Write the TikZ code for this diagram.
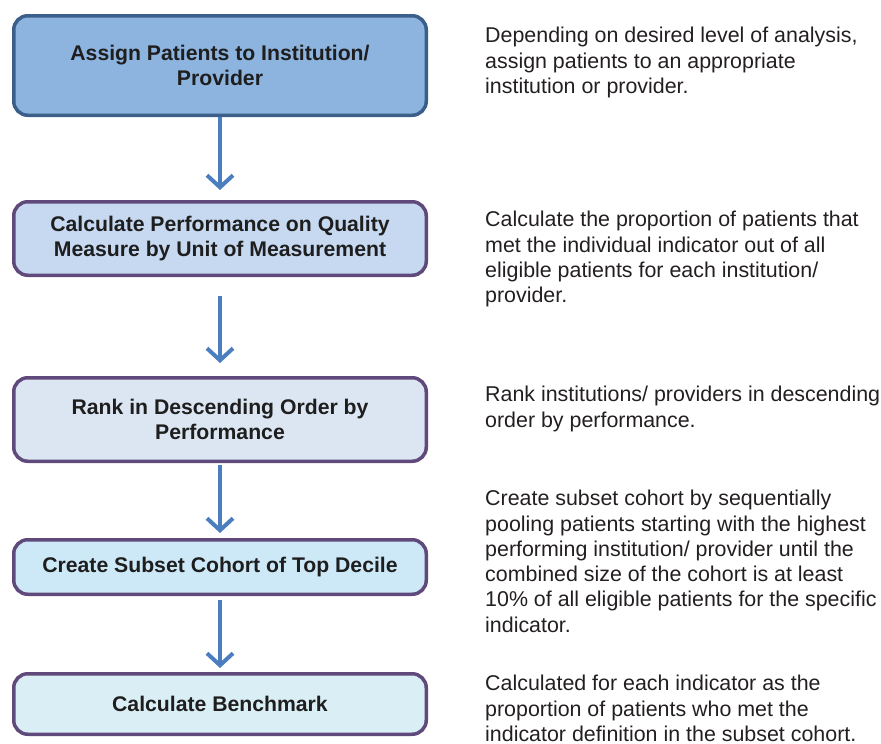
\documentclass[tikz,border=0pt]{standalone}
\usepackage{fontspec}
\setmainfont{Liberation Sans}
\usetikzlibrary{positioning,arrows.meta}

\definecolor{assignfill}{HTML}{8DB3DF}
\definecolor{assignline}{HTML}{3B5F8A}
\definecolor{perffill}{HTML}{C6D9F1}
\definecolor{rankfill}{HTML}{DCE6F2}
\definecolor{cohortfill}{HTML}{CDE9F8}
\definecolor{benchfill}{HTML}{DAEEF5}
\definecolor{boxline}{HTML}{604A7B}
\definecolor{flowblue}{HTML}{4A7EBF}
\definecolor{steptext}{HTML}{1E1E1E}
\definecolor{notetext}{HTML}{231F20}

\tikzset{
  stepbox/.style={draw=boxline, line width=3.5pt, rounded corners=14pt,
    minimum width=412.5pt, align=center, text=steptext,
    font=\fontsize{21.2}{25.5}\selectfont\bfseries},
  note/.style={anchor=north west, align=left, inner sep=0pt, text=notetext,
    font=\fontsize{21.4}{25.3}\selectfont},
  flow/.style={draw=flowblue, line width=4pt,
    -{Straight Barb[length=12pt,width=26pt]}},
}

\begin{document}
\begin{tikzpicture}[x=1pt, y=1pt]
  \useasboundingbox (0,0) rectangle (881,-744);

  \node [stepbox, fill=assignfill, draw=assignline, minimum height=99.5pt] (assign) at (220,-65.5)
    {Assign Patients to Institution/\\Provider};
  \node [stepbox, fill=perffill, minimum height=73.5pt, below=83pt of assign] (perf)
    {Calculate Performance on Quality\\Measure by Unit of Measurement};
  \node [stepbox, fill=rankfill, minimum height=83.5pt, below=99pt of perf] (rank)
    {Rank in Descending Order by\\Performance};
  \node [stepbox, fill=cohortfill, minimum height=54.5pt, below=75pt of rank] (cohort)
    {Create Subset Cohort of Top Decile};
  \node [stepbox, fill=benchfill, minimum height=60.5pt, below=76pt of cohort] (bench)
    {Calculate Benchmark};

  \node [note] (assignnote) at (485,-27) {
    Depending on desired level of analysis,\\
    assign patients to an appropriate\\
    institution or provider.};
  \node [note] (perfnote) at (485,-211) {
    Calculate the proportion of patients that\\
    met the individual indicator out of all\\
    eligible patients for each institution/\\
    provider.};
  \node [note] (ranknote) at (485,-386) {
    Rank institutions/ providers in descending\\
    order by performance.};
  \node [note] (cohortnote) at (485,-490) {
    Create subset cohort by sequentially\\
    pooling patients starting with the highest\\
    performing institution/ provider until the\\
    combined size of the cohort is at least\\
    10\% of all eligible patients for the specific\\
    indicator.};
  \node [note] (benchnote) at (485,-675) {
    Calculated for each indicator as the\\
    proportion of patients who met the\\
    indicator definition in the subset cohort.};

  \draw [flow, shorten >=10pt] (assign) -- (perf);
  \draw [flow, shorten <=19pt, shorten >=13pt] (perf) -- (rank);
  \draw [flow, shorten <=2pt, shorten >=5pt] (rank) -- (cohort);
  \draw [flow, shorten <=4pt, shorten >=4pt] (cohort) -- (bench);
\end{tikzpicture}
\end{document}
